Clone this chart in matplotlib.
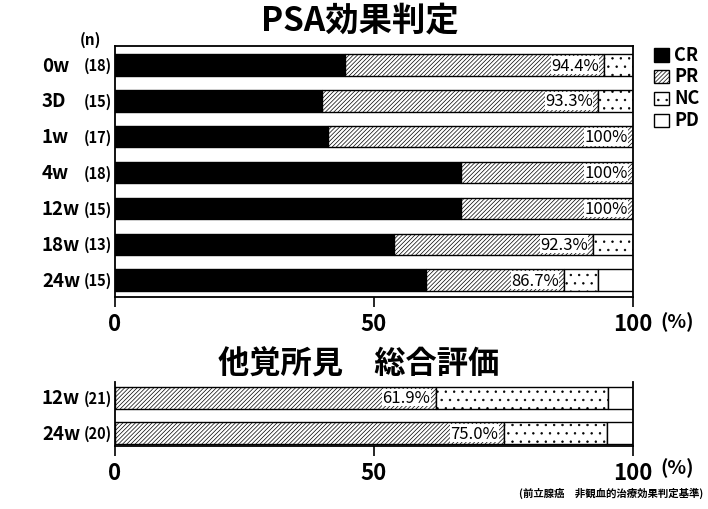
import matplotlib

matplotlib.use("Agg")
import matplotlib.pyplot as plt
from matplotlib.patches import Patch

plt.rcParams["font.family"] = ["Noto Sans CJK JP", "DejaVu Sans"]
plt.rcParams["hatch.linewidth"] = 0.5

# PSA response (percent of patients)
psa_labels = ["0w", "3D", "1w", "4w", "12w", "18w", "24w"]
psa_n = [18, 15, 17, 18, 15, 13, 15]
psa_cr = [44.4, 40.0, 41.2, 66.7, 66.7, 53.8, 60.0]
psa_pr = [50.0, 53.3, 58.8, 33.3, 33.3, 38.5, 26.7]
psa_nc = [5.6, 6.7, 0.0, 0.0, 0.0, 7.7, 6.6]
psa_pd = [0.0, 0.0, 0.0, 0.0, 0.0, 0.0, 6.7]

# overall clinical evaluation
eval_labels = ["12w", "24w"]
eval_n = [21, 20]
eval_cr = [0.0, 0.0]
eval_pr = [61.9, 75.0]
eval_nc = [33.3, 20.0]
eval_pd = [4.8, 5.0]

CATEGORIES = ["CR", "PR", "NC", "PD"]
STYLES = {
    "CR": dict(facecolor="black", hatch=None),
    "PR": dict(facecolor="white", hatch="////////"),
    "NC": dict(facecolor="white", hatch=".."),
    "PD": dict(facecolor="white", hatch=None),
}

W, H = 708, 510


def fx(px):
    return px / W


def fy(py):
    return 1 - py / H


def draw_panel(ax, labels, ns, cr, pr, nc, pd, height):
    rows = range(len(labels))
    left = [0.0] * len(labels)
    for cat, vals in zip(CATEGORIES, [cr, pr, nc, pd]):
        st = STYLES[cat]
        ax.barh(rows, vals, left=left, height=height, facecolor=st["facecolor"],
                hatch=st["hatch"], edgecolor="black", linewidth=1.0)
        left = [a + b for a, b in zip(left, vals)]

    for i in rows:
        rate = cr[i] + pr[i]
        txt = "100%" if rate >= 99.95 else f"{rate:.1f}%"
        ax.text(rate - 1.0, i, txt, ha="right", va="center", fontsize=12,
                bbox=dict(facecolor="white", edgecolor="none", pad=0.3))
        ax.text(-0.141, i, labels[i], transform=ax.get_yaxis_transform(),
                ha="left", va="center", fontsize=13.5, fontweight="bold")
        ax.text(-0.006, i, f"({ns[i]})", transform=ax.get_yaxis_transform(),
                ha="right", va="center", fontsize=10.5, fontweight="bold")

    ax.set_xlim(0, 100)
    ax.set_yticks([])
    ax.set_xticks([0, 50, 100])
    ax.set_xticklabels(["0", "50", "100"])
    ax.tick_params(axis="x", direction="out", length=7, width=1.2, pad=4,
                   labelsize=16)
    for lab in ax.get_xticklabels():
        lab.set_fontweight("bold")
    for sp in ax.spines.values():
        sp.set_linewidth(1.3)


fig = plt.figure(figsize=(W / 100, H / 100), dpi=100)

ax1 = fig.add_axes([fx(115), fy(298), fx(633) - fx(115), fy(47) - fy(298)])
draw_panel(ax1, psa_labels, psa_n, psa_cr, psa_pr, psa_nc, psa_pd, 0.6)
ax1.set_ylim(6.47, -0.53)

ax2 = fig.add_axes([fx(115), fy(447), fx(633) - fx(115), fy(383) - fy(447)])
draw_panel(ax2, eval_labels, eval_n, eval_cr, eval_pr, eval_nc, eval_pd, 0.62)
ax2.set_ylim(1.36, -0.44)
ax2.spines["top"].set_visible(False)

fig.text(fx(360), fy(21), "PSA効果判定", ha="center", va="center",
         fontsize=24, fontweight="bold")
fig.text(fx(359), fy(364), "他覚所見　総合評価", ha="center", va="center",
         fontsize=22.5, fontweight="bold")
fig.text(fx(90), fy(40), "(n)", ha="center", va="center", fontsize=11,
         fontweight="bold")
for py in (322, 468):
    fig.text(fx(660), fy(py), "(%)", ha="left", va="center", fontsize=14,
             fontweight="bold")
fig.text(fx(703), fy(493), "(前立腺癌　非観血的治療効果判定基準)", ha="right",
         va="center", fontsize=7.5, fontweight="bold")

handles = [Patch(facecolor=STYLES[c]["facecolor"], hatch=STYLES[c]["hatch"],
                 edgecolor="black", linewidth=1.0) for c in CATEGORIES]
leg = fig.legend(handles, CATEGORIES, loc="upper left",
                 bbox_to_anchor=(fx(648), fy(40)), frameon=False,
                 handlelength=1.1, handleheight=1.1, handletextpad=0.4,
                 labelspacing=0.2, borderaxespad=0)
for t in leg.get_texts():
    t.set_fontsize(13)
    t.set_fontweight("bold")

fig.savefig("out.png", dpi=100)
